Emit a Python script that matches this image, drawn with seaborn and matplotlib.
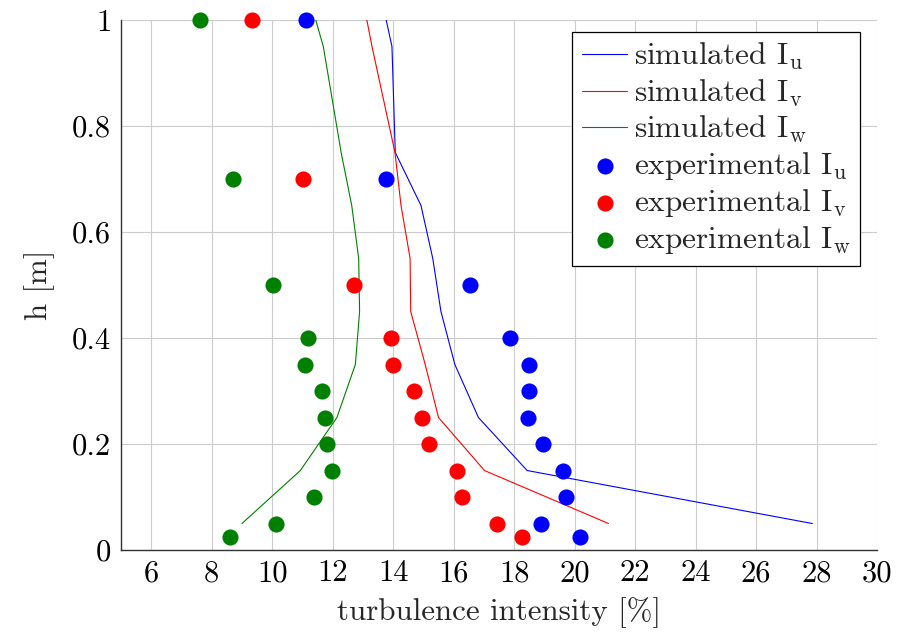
import matplotlib
matplotlib.use("Agg")
import matplotlib.pyplot as plt
import seaborn as sns

# Heights of the simulated profiles [m]
h_sim = [1.0, 0.95, 0.75, 0.65, 0.55, 0.45, 0.35, 0.25, 0.15, 0.05]
# Simulated turbulence intensities [%]
sim_u = [13.77, 13.96, 14.07, 14.92, 15.31, 15.58, 16.04, 16.82, 18.43, 27.86]
sim_v = [13.13, 13.30, 14.06, 14.26, 14.56, 14.58, 15.06, 15.50, 17.02, 21.12]
sim_w = [11.44, 11.69, 12.28, 12.63, 12.86, 12.89, 12.75, 12.14, 10.93, 9.00]

# Measurement heights [m]
h_exp = [1.0, 0.7, 0.5, 0.4, 0.35, 0.3, 0.25, 0.2, 0.15, 0.1, 0.05, 0.025]
# Measured turbulence intensities [%]
exp_u = [11.13, 13.77, 16.53, 17.86, 18.50, 18.50, 18.45, 18.94, 19.60, 19.73, 18.90, 20.18]
exp_v = [9.33, 11.01, 12.72, 13.92, 13.99, 14.68, 14.95, 15.19, 16.12, 16.27, 17.45, 18.26]
exp_w = [7.60, 8.72, 10.04, 11.19, 11.10, 11.65, 11.73, 11.81, 11.98, 11.37, 10.11, 8.61]

x_ticks = [6, 8, 10, 12, 14, 16, 18, 20, 22, 24, 26, 28, 30]
y_ticks = [0, 0.2, 0.4, 0.6, 0.8, 1.0]
y_tick_labels = ["0", "0.2", "0.4", "0.6", "0.8", "1"]

sns.set_style("white")
plt.rcParams["font.family"] = ["cmr10"]
plt.rcParams["mathtext.fontset"] = "cm"
plt.rcParams["axes.formatter.use_mathtext"] = True
plt.rcParams["axes.unicode_minus"] = False

fig = plt.figure(figsize=(8.97, 6.33), dpi=100)
ax = fig.add_axes([0.1349, 0.1311, 0.9777 - 0.1349, 0.9684 - 0.1311])

line_kw = dict(sort=False, estimator=None, linewidth=0.8, ax=ax)
sns.lineplot(x=sim_u, y=h_sim, color="blue", label=r"simulated $\mathrm{I_u}$", **line_kw)
sns.lineplot(x=sim_v, y=h_sim, color="red", label=r"simulated $\mathrm{I_v}$", **line_kw)
sns.lineplot(x=sim_w, y=h_sim, color="green", label=r"simulated $\mathrm{I_w}$", **line_kw)

pt_kw = dict(s=135, linewidth=0, zorder=3, clip_on=False, ax=ax)
sns.scatterplot(x=exp_u, y=h_exp, color="blue", label=r"experimental $\mathrm{I_u}$", **pt_kw)
sns.scatterplot(x=exp_v, y=h_exp, color="red", label=r"experimental $\mathrm{I_v}$", **pt_kw)
sns.scatterplot(x=exp_w, y=h_exp, color="green", label=r"experimental $\mathrm{I_w}$", **pt_kw)

ax.set_xlim(5, 30)
ax.set_ylim(0, 1)
ax.set_xticks(x_ticks)
ax.set_xticklabels([str(t) for t in x_ticks])
ax.set_yticks(y_ticks)
ax.set_yticklabels(y_tick_labels)

ax.grid(True, color="#cccccc", linewidth=0.8)
ax.set_axisbelow(True)
for side in ("top", "right"):
    ax.spines[side].set_visible(False)
for side in ("left", "bottom"):
    ax.spines[side].set_color("#333333")
    ax.spines[side].set_linewidth(1.0)

ax.tick_params(axis="both", direction="in", length=8, width=0.8, color="#999999",
               labelsize=22, pad=7, labelcolor="black")

ax.set_xlabel("turbulence intensity [%]", fontsize=22.3, labelpad=7)
ax.set_ylabel("h [m]", fontsize=22.3, labelpad=12)

leg = ax.legend(loc="upper right", bbox_to_anchor=(0.9775, 0.978), fontsize=22.5,
                frameon=True, fancybox=False, edgecolor="black", framealpha=1,
                handlelength=1.45, handletextpad=0.22, labelspacing=0.16,
                borderpad=0.3, borderaxespad=0)
leg.get_frame().set_linewidth(0.9)

fig.savefig("out.png", dpi=100)
